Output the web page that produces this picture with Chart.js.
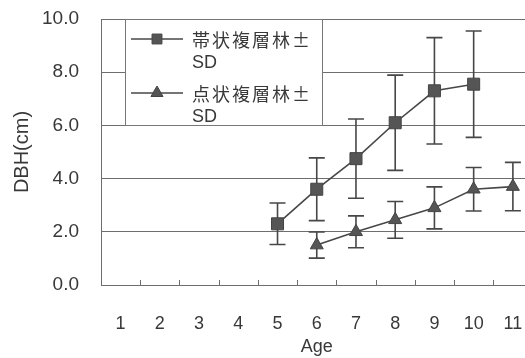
<!DOCTYPE html>
<html>
<head>
<meta charset="utf-8">
<script src="https://cdn.jsdelivr.net/npm/chart.js@4"></script>
<style>
  html, body { margin: 0; padding: 0; background: #fff; overflow: hidden; }
  #wrap { width: 542px; height: 358px; position: relative; }
</style>
</head>
<body>
<div id="wrap"><canvas id="dbhChart"></canvas></div>
<script>
const ages = ['1', '2', '3', '4', '5', '6', '7', '8', '9', '10', '11'];
const bandMean = [null, null, null, null, 2.3, 3.6, 4.75, 6.1, 7.3, 7.55, null];
const bandSD   = [null, null, null, null, 0.78, 1.18, 1.49, 1.79, 2.0, 2.0, null];
const spotMean = [null, null, null, null, null, 1.5, 2.0, 2.45, 2.9, 3.6, 3.7];
const spotSD   = [null, null, null, null, null, 0.49, 0.6, 0.69, 0.79, 0.82, 0.91];
const yTicks = [0, 2, 4, 6, 8, 10];
const legendLines = [['帯状複層林±', 'SD'], ['点状複層林±', 'SD']];

const FONT = '"Liberation Sans", Arial, "Noto Sans CJK JP", sans-serif';
const JFONT = '"Noto Sans CJK JP", "Liberation Sans", sans-serif';
const INK = '#383838';
const LINE = '#474747';
const MARK = '#555';
const GRID = '#6e6e6e';

const errorBars = {
  id: 'errorBars',
  beforeDatasetsDraw(chart) {
    const ctx = chart.ctx, xs = chart.scales.x, ys = chart.scales.y;
    ctx.save();
    ctx.strokeStyle = LINE;
    ctx.lineWidth = 1.6;
    chart.data.datasets.forEach(ds => {
      ds.data.forEach((v, i) => {
        if (v == null) return;
        const sd = ds.sd[i];
        const x = xs.getPixelForValue(i);
        const yt = ys.getPixelForValue(v + sd), yb = ys.getPixelForValue(v - sd);
        ctx.beginPath();
        ctx.moveTo(x, yt); ctx.lineTo(x, yb);
        ctx.moveTo(x - 8, yt); ctx.lineTo(x + 8, yt);
        ctx.moveTo(x - 8, yb); ctx.lineTo(x + 8, yb);
        ctx.stroke();
      });
    });
    ctx.restore();
  },
  afterDraw(chart) {
    const ctx = chart.ctx, xs = chart.scales.x, a = chart.chartArea;
    ctx.save();
    // small tick marks on the x axis, pointing up
    ctx.strokeStyle = GRID;
    ctx.lineWidth = 1;
    for (let i = 1; i < ages.length; i++) {
      const x = Math.round((xs.getPixelForValue(i - 1) + xs.getPixelForValue(i)) / 2) + 0.5;
      ctx.beginPath();
      ctx.moveTo(x, a.bottom); ctx.lineTo(x, a.bottom - 5);
      ctx.stroke();
    }
    // legend box
    const lx = Math.round(a.left) + 24, ly = Math.round(a.top), lw = 197, lh = 106;
    ctx.fillStyle = '#fff';
    ctx.fillRect(lx, ly, lw, lh);
    ctx.strokeStyle = '#777';
    ctx.strokeRect(lx + 0.5, ly + 0.5, lw, lh);
    ctx.textBaseline = 'middle';
    const rows = [ly + 20, ly + 74];
    const marks = [7, 7];
    chart.data.datasets.forEach((ds, k) => {
      const y = rows[k];
      ctx.strokeStyle = LINE;
      ctx.lineWidth = 1.6;
      ctx.beginPath();
      ctx.moveTo(lx + 6, y); ctx.lineTo(lx + 58, y);
      ctx.stroke();
      ctx.fillStyle = MARK;
      ctx.strokeStyle = '#444';
      ctx.lineWidth = 1;
      Chart.helpers.drawPoint(ctx, { pointStyle: ds.pointStyle, radius: marks[k], borderWidth: 1 }, lx + 32, y);
      ctx.fillStyle = INK;
      ctx.font = '18px ' + JFONT;
      ctx.letterSpacing = '2px';
      ctx.fillText(legendLines[k][0], lx + 67, y + 1);
      ctx.letterSpacing = '0px';
      ctx.font = '18px ' + FONT;
      ctx.fillText(legendLines[k][1], lx + 67, y + 24);
    });
    ctx.restore();
  }
};

new Chart(document.getElementById('dbhChart'), {
  type: 'line',
  data: {
    labels: ages,
    datasets: [
      {
        label: '帯状複層林±SD',
        data: bandMean, sd: bandSD,
        borderColor: LINE, borderWidth: 1.6,
        pointStyle: 'rect', pointRadius: 8.5,
        pointBackgroundColor: MARK, pointBorderColor: '#444', pointBorderWidth: 1
      },
      {
        label: '点状複層林±SD',
        data: spotMean, sd: spotSD,
        borderColor: LINE, borderWidth: 1.6,
        pointStyle: 'triangle', pointRadius: 7.5,
        pointBackgroundColor: MARK, pointBorderColor: '#444', pointBorderWidth: 1
      }
    ]
  },
  options: {
    responsive: true,
    maintainAspectRatio: false,
    animation: false,
    layout: { padding: { top: 19, right: 0, left: 0, bottom: 0 } },
    plugins: { legend: { display: false }, tooltip: { enabled: false } },
    scales: {
      x: {
        offset: true,
        grid: { display: false },
        border: { color: GRID, width: 1 },
        ticks: { color: INK, font: { family: FONT, size: 18 }, padding: 20, maxRotation: 0 },
        title: { display: true, text: 'Age', color: INK, font: { family: FONT, size: 18 }, padding: { top: 7, bottom: 0 } },
        afterFit(s) { s.height = 73; s.paddingLeft = 0; s.paddingRight = 0; }
      },
      y: {
        min: 0, max: 10,
        afterBuildTicks(s) { s.ticks = yTicks.map(v => ({ value: v })); },
        grid: { color: GRID, lineWidth: 1, tickLength: 0 },
        border: { color: GRID, width: 1 },
        ticks: { color: INK, font: { family: FONT, size: 19 }, padding: 22, callback: v => v.toFixed(1) },
        title: { display: true, text: 'DBH(cm)', color: INK, font: { family: FONT, size: 20 }, padding: { top: 10, bottom: 0 } },
        afterFit(s) { s.width = 101; s.paddingTop = 0; s.paddingBottom = 0; }
      }
    }
  },
  plugins: [errorBars]
});
</script>
</body>
</html>
